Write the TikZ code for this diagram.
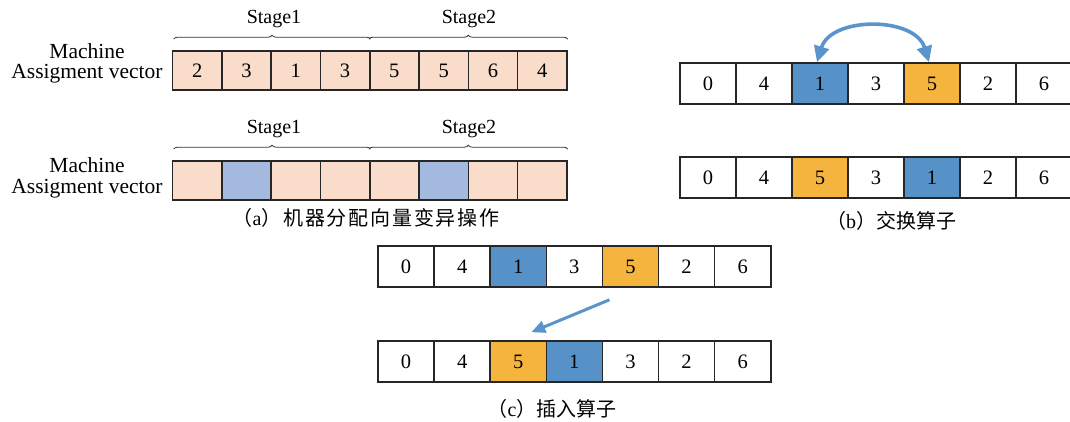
\documentclass[tikz,border=0pt]{standalone}
\usepackage{fontspec}
\setmainfont{Liberation Serif}
\newfontfamily\cjk{Noto Sans CJK SC}
\newfontfamily\cjkwide[LetterSpace=9]{Noto Sans CJK SC}
\usetikzlibrary{arrows.meta,decorations.pathreplacing}
\definecolor{peach}{HTML}{F9DCCA}
\definecolor{lblue}{HTML}{A4B9DE}
\definecolor{bblue}{HTML}{5692C8}
\definecolor{orng}{HTML}{F5B43E}
\definecolor{arrblue}{HTML}{5B94CB}
\begin{document}
\begin{tikzpicture}[x=1pt,y=-1pt,
  cellbase/.style={draw=black!85, line width=1.6pt, inner sep=0pt, font=\fontsize{20.5}{24}\selectfont},
  acell/.style={cellbase, minimum width=49.3pt, minimum height=39pt},
  bcell/.style={cellbase, minimum width=56pt, minimum height=41pt},
  ccell/.style={cellbase, minimum width=56.1pt, minimum height=41pt},
  brc/.style={decorate, decoration={brace, amplitude=4pt}, line width=0.8pt, black!80},
  stagelbl/.style={font=\fontsize{20}{24}\selectfont, inner sep=0pt},
  sidelbl/.style={font=\fontsize{21.5}{24}\selectfont, inner sep=0pt, anchor=base},
  captxt/.style={font=\fontsize{20}{24}\selectfont, inner sep=0pt},
  swaparrow/.style={arrblue, line width=3.6pt, {Triangle[length=16pt,width=15pt]}-{Triangle[length=16pt,width=15pt]}},
  insarrow/.style={arrblue, line width=3pt, -{Triangle[length=14pt,width=12pt]}}
]
\useasboundingbox (0,0) rectangle (1070,421);

% ---------- panel (a) ----------
\foreach \v [count=\i] in {2,3,1,3,5,5,6,4}
  \node[acell, fill=peach] (a1-\i) at ({172.5+49.3*(\i-0.5)},70.5) {\v};
\foreach \c [count=\i] in {peach,lblue,peach,peach,peach,lblue,peach,peach}
  \node[acell, fill=\c] (a2-\i) at ({172.5+49.3*(\i-0.5)},180.5) {};

\draw[brc] ([shift={(2,-11)}]a1-1.north west) -- ([shift={(0,-11)}]a1-4.north east);
\draw[brc] ([shift={(0,-11)}]a1-5.north west) -- ([shift={(0,-11)}]a1-8.north east);
\draw[brc] ([shift={(2,-11)}]a2-1.north west) -- ([shift={(0,-11)}]a2-4.north east);
\draw[brc] ([shift={(0,-11)}]a2-5.north west) -- ([shift={(0,-11)}]a2-8.north east);

\node[stagelbl] (s11) at (274,19) {Stage1};
\node[stagelbl] (s12) at (469,19) {Stage2};
\node[stagelbl] (s21) at (274,129) {Stage1};
\node[stagelbl] (s22) at (469,129) {Stage2};

\node[sidelbl] (m1) at (87,58) {Machine};
\node[sidelbl] (v1) at (87,78) {Assigment vector};
\node[sidelbl] (m2) at (87,172) {Machine};
\node[sidelbl] (v2) at (87,193) {Assigment vector};

\node[captxt] (capa) at (366,218) {\cjkwide （{\rmfamily a}）机器分配向量变异操作};

% ---------- panel (b) ----------
\foreach \v/\c [count=\i] in {0/white,4/white,1/bblue,3/white,5/orng,2/white,6/white}
  \node[bcell, fill=\c] (b1-\i) at ({680+56*(\i-0.5)},83.5) {\v};
\foreach \v/\c [count=\i] in {0/white,4/white,5/orng,3/white,1/bblue,2/white,6/white}
  \node[bcell, fill=\c] (b2-\i) at ({680+56*(\i-0.5)},177.5) {\v};

\draw[swaparrow] ([xshift=-3pt]b1-3.north) .. controls +(14,-46) and +(-14,-46) .. ([xshift=-3pt]b1-5.north);

\node[captxt] (capb) at (891,221) {\cjk （{\rmfamily b}）交换算子};

% ---------- panel (c) ----------
\foreach \v/\c [count=\i] in {0/white,4/white,1/bblue,3/white,5/orng,2/white,6/white}
  \node[ccell, fill=\c] (c1-\i) at ({378+56.1*(\i-0.5)},266.5) {\v};
\foreach \v/\c [count=\i] in {0/white,4/white,5/orng,1/bblue,3/white,2/white,6/white}
  \node[ccell, fill=\c] (c2-\i) at ({378+56.1*(\i-0.5)},361.5) {\v};

\draw[insarrow] ([shift={(-21,12)}]c1-5.south) -- ([shift={(13,-8)}]c2-3.north);

\node[captxt] (capc) at (552,409) {\cjk （{\rmfamily c}）插入算子};
\end{tikzpicture}
\end{document}
